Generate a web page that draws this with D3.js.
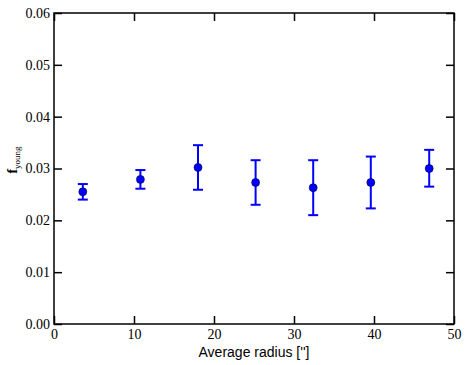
<!DOCTYPE html>
<html><head><meta charset="utf-8">
<script src="https://cdn.jsdelivr.net/npm/d3@7"></script>
<style>body{margin:0;background:#fff}</style>
</head><body>
<svg id="c" width="468" height="365"></svg>
<script>
const radius = [3.6, 10.8, 18.0, 25.2, 32.4, 39.6, 46.9];
const fyoung = [0.0255, 0.0279, 0.0302, 0.0273, 0.0263, 0.0273, 0.0300];
const errLow = [0.0240, 0.0261, 0.0259, 0.0230, 0.0210, 0.0223, 0.0265];
const errHigh = [0.0270, 0.0297, 0.0345, 0.0316, 0.0316, 0.0323, 0.0336];
const xTicks = [0, 10, 20, 30, 40, 50];
const yTicks = [0, 0.01, 0.02, 0.03, 0.04, 0.05, 0.06];

const svg = d3.select("#c");
const L = 54, R = 454, T = 13, B = 324;
const x = d3.scaleLinear().domain([0, 50]).range([L, R]);
const y = d3.scaleLinear().domain([0, 0.06]).range([B, T]);
const serif = '"Liberation Serif"';

const ax = [
  {g: d3.axisBottom(x).tickValues(xTicks).tickSizeInner(-8).tickSizeOuter(0).tickPadding(5).tickFormat(d3.format("d")), t: `translate(0,${B})`, lab: true},
  {g: d3.axisTop(x).tickValues(xTicks).tickSizeInner(-8).tickSizeOuter(0), t: `translate(0,${T})`, lab: false},
  {g: d3.axisLeft(y).tickValues(yTicks).tickSizeInner(-8).tickSizeOuter(0).tickPadding(4).tickFormat(d3.format(".2f")), t: `translate(${L},0)`, lab: true},
  {g: d3.axisRight(y).tickValues(yTicks).tickSizeInner(-8).tickSizeOuter(0), t: `translate(${R},0)`, lab: false}
];
ax.forEach(a => {
  const g = svg.append("g").attr("transform", a.t).call(a.g);
  g.attr("font-family", null).attr("font-size", null);
  g.select(".domain").remove();
  g.selectAll(".tick line").attr("stroke", "#000").attr("stroke-width", 1.5);
  g.selectAll(".tick text").style("font-family", serif).style("font-size", "14px").attr("fill", "#000");
  if (!a.lab) g.selectAll(".tick text").remove();
});
svg.append("rect").attr("x", L).attr("y", T).attr("width", R - L).attr("height", B - T)
  .attr("fill", "none").attr("stroke", "#000").attr("stroke-width", 1.5);

const data = radius.map((r, i) => ({r, v: fyoung[i], lo: errLow[i], hi: errHigh[i]}));
const eg = svg.append("g").attr("stroke", "#0000ff").attr("stroke-width", 2);
eg.selectAll(".v").data(data).join("line")
  .attr("x1", d => x(d.r)).attr("x2", d => x(d.r)).attr("y1", d => y(d.lo)).attr("y2", d => y(d.hi));
eg.selectAll(".ct").data(data).join("line")
  .attr("x1", d => x(d.r) - 5).attr("x2", d => x(d.r) + 5).attr("y1", d => y(d.hi)).attr("y2", d => y(d.hi));
eg.selectAll(".cb").data(data).join("line")
  .attr("x1", d => x(d.r) - 5).attr("x2", d => x(d.r) + 5).attr("y1", d => y(d.lo)).attr("y2", d => y(d.lo));
svg.append("g").selectAll("circle").data(data).join("circle")
  .attr("cx", d => x(d.r)).attr("cy", d => y(d.v)).attr("r", 4)
  .attr("fill", "#0000ff").attr("stroke", "#000033").attr("stroke-width", 0.6);

svg.append("text").attr("x", (L + R) / 2).attr("y", 357).attr("text-anchor", "middle")
  .style("font-family", '"Liberation Sans"').style("font-size", "14px")
  .text("Average radius ['']");
const yl = svg.append("text").attr("transform", "translate(17,160) rotate(-90)")
  .attr("text-anchor", "middle").style("font-family", serif).style("font-size", "14px");
yl.append("tspan").attr("font-weight", "bold").text("f");
yl.append("tspan").style("font-size", "9px").attr("dy", 3).text("young");
</script>
</body></html>
